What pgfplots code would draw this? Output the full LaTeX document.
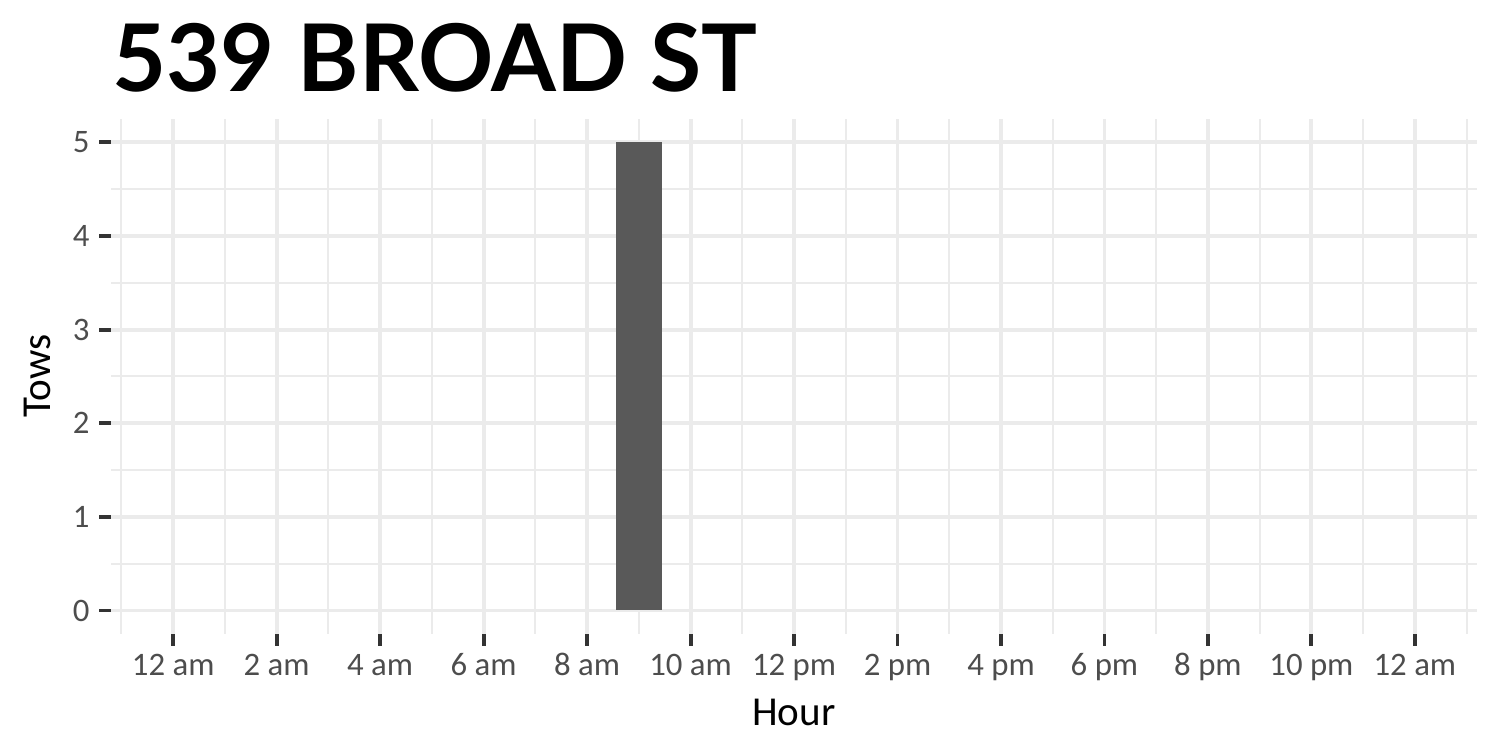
\documentclass[border=0pt]{standalone}
\usepackage{pgfplots}
\pgfplotsset{compat=1.18}
\usepackage{fontspec}
\setmainfont{Carlito}
\newfontfamily\titlefont{Lato}
\definecolor{gridc}{HTML}{EBEBEB}
\definecolor{tickc}{HTML}{333333}
\definecolor{labc}{HTML}{4D4D4D}
\definecolor{barc}{HTML}{595959}
\begin{document}
\begin{tikzpicture}
\useasboundingbox (0,0) rectangle (540pt,270pt);
\begin{axis}[
  at={(40pt,41.8pt)}, anchor=south west,
  scale only axis, width=491.7pt, height=185.4pt,
  xmin=-1.2, xmax=25.2, ymin=-0.25, ymax=5.25,
  axis line style={draw=none},
  /pgf/number format/assume math mode=true,
  xtick={0,2,...,24},
  xticklabels={12 am,2 am,4 am,6 am,8 am,10 am,12 pm,2 pm,4 pm,6 pm,8 pm,10 pm,12 am},
  minor xtick={-1,1,...,25},
  ytick={0,1,...,5},
  minor ytick={0.5,1.5,...,4.5},
  grid=both,
  major grid style={draw=gridc, line width=1.4pt},
  minor grid style={draw=gridc, line width=0.7pt},
  tick pos=left, tick align=outside,
  major tick length=4.2pt, minor tick length=0pt,
  major tick style={draw=tickc, line width=1.4pt},
  minor tick style={draw=none},
  xticklabel style={font=\fontsize{11.8}{13}\selectfont, text=labc, anchor=base, inner sep=0pt, yshift=-10.9pt},
  yticklabel style={font=\fontsize{11.8}{13}\selectfont, text=labc, anchor=east, inner sep=0pt, xshift=-3.4pt},
  clip=false,
]
\addplot[ybar, bar width=0.9, fill=barc, draw=none] coordinates {(9,5)};
\end{axis}
\node[anchor=base west, inner sep=0pt, font=\titlefont\bfseries\fontsize{33.6}{40}\selectfont] at (40.3pt,237.2pt) {539 BROAD ST};
\node[anchor=base, inner sep=0pt, font=\fontsize{14.8}{16}\selectfont] at (285.8pt,8.8pt) {Hour};
\node[anchor=base, rotate=90, inner sep=0pt, font=\fontsize{14.8}{16}\selectfont] at (18pt,134.5pt) {Tows};
\end{tikzpicture}
\end{document}
